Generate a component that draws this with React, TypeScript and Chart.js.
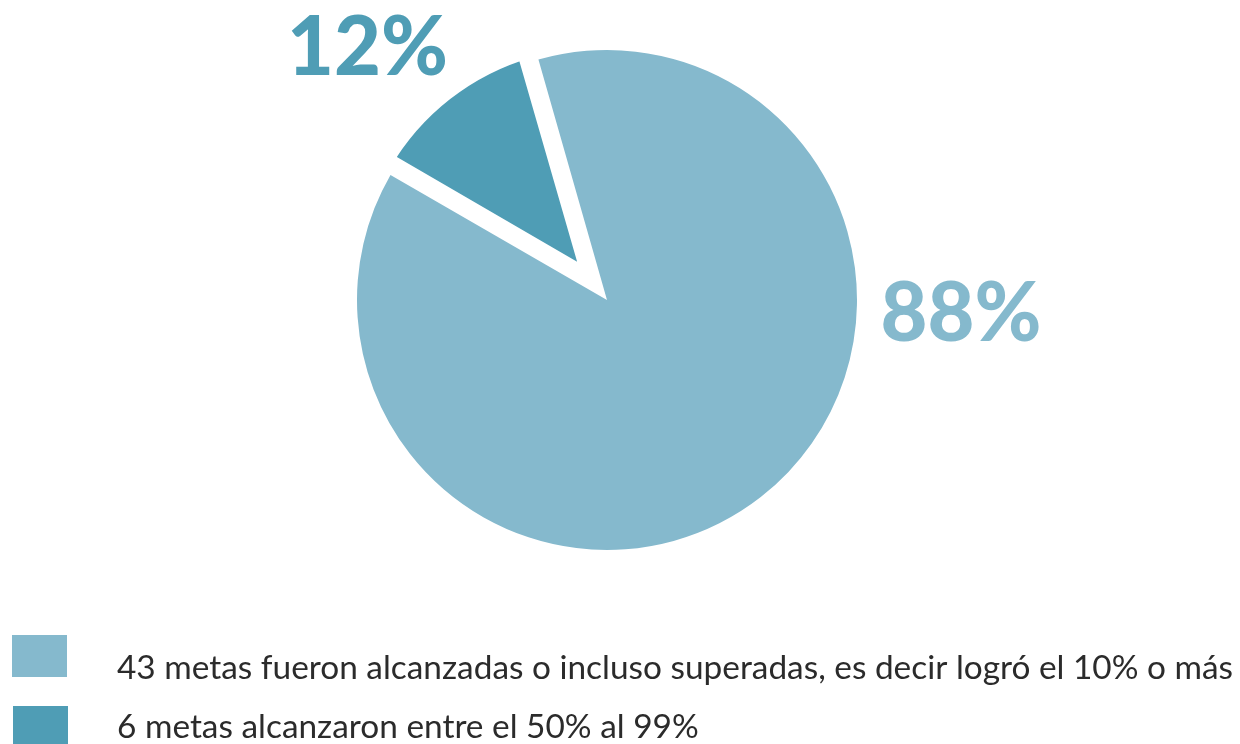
import React, { useEffect, useRef } from "react";
import { Chart, registerables } from "chart.js";

Chart.register(...registerables);

// ---- data ----
const categories = [
  "43 metas fueron alcanzadas o incluso superadas, es decir logró el 10% o más",
  "6 metas alcanzaron entre el 50% al 99%",
];
const goalCounts = [43, 6];

// ---- styles ----
const LIGHT = "#85B9CD";
const DARK = "#4F9DB5";
const sliceColors = [LIGHT, DARK];
const TEXT_COLOR = "#2b2b2b";

const total = goalCounts.reduce((a, b) => a + b, 0);
const percentLabels = goalCounts.map((v) => Math.round((v / total) * 100) + "%");

const overlayPlugin = {
  id: "overlay",
  afterDraw(chart: any) {
    const ctx: CanvasRenderingContext2D = chart.ctx;
    const arc: any = chart.getDatasetMeta(0).data[0];
    const cx = arc.x;
    const cy = arc.y;
    ctx.save();
    // percentage labels
    ctx.font = "900 81px Lato, 'DejaVu Sans', sans-serif";
    ctx.textAlign = "center";
    ctx.textBaseline = "alphabetic";
    ctx.fillStyle = sliceColors[0];
    ctx.fillText(percentLabels[0], cx + 354, cy + 41);
    ctx.fillStyle = sliceColors[1];
    ctx.fillText(percentLabels[1], cx - 239.5, cy - 225);

    // legend
    const boxes = [
      { x: 12, y: 635 },
      { x: 13, y: 706 },
    ];
    const baselines = [679, 738];
    ctx.font = "400 33.4px Lato, 'DejaVu Sans', sans-serif";
    ctx.textAlign = "left";
    categories.forEach((label, i) => {
      ctx.fillStyle = sliceColors[i];
      ctx.fillRect(boxes[i].x, boxes[i].y, 55, 42);
      ctx.fillStyle = TEXT_COLOR;
      ctx.fillText(label, 117, baselines[i]);
    });
    ctx.restore();
  },
};

export default function App() {
  const canvasRef = useRef<HTMLCanvasElement | null>(null);

  useEffect(() => {
    let chart: Chart | null = null;
    let cancelled = false;
    const make = () => {
      if (cancelled || !canvasRef.current) return;
      // draw order: small slice first, big slice on top
      const order = [1, 0];
      chart = new Chart(canvasRef.current, {
        type: "pie",
        data: {
          labels: order.map((i) => categories[i]),
          datasets: [
            {
              data: order.map((i) => goalCounts[i]),
              backgroundColor: order.map((i) => sliceColors[i]),
              borderColor: "#ffffff",
              borderWidth: [26, 0],
              offset: [55, 0],
              hoverOffset: 0,
            },
          ],
        },
        options: {
          responsive: false,
          animation: false,
          radius: 250,
          rotation: -60,
          events: [],
          layout: { padding: { left: 0, right: 26, top: 0, bottom: 144 } },
          plugins: { legend: { display: false }, tooltip: { enabled: false } },
        } as any,
        plugins: [overlayPlugin],
      });
    };
    const fontsApi: any = (document as any).fonts;
    if (fontsApi && fontsApi.load) {
      Promise.all([
        fontsApi.load("900 81px Lato"),
        fontsApi.load("400 33.4px Lato"),
      ])
        .catch(() => null)
        .then(make);
    } else {
      make();
    }
    return () => {
      cancelled = true;
      if (chart) chart.destroy();
    };
  }, []);

  return (
    <div style={{ position: "fixed", left: 0, top: 0, width: 1240, height: 744, background: "#fff" }}>
      <canvas ref={canvasRef} width={1240} height={744} style={{ width: 1240, height: 744, display: "block" }} />
    </div>
  );
}
